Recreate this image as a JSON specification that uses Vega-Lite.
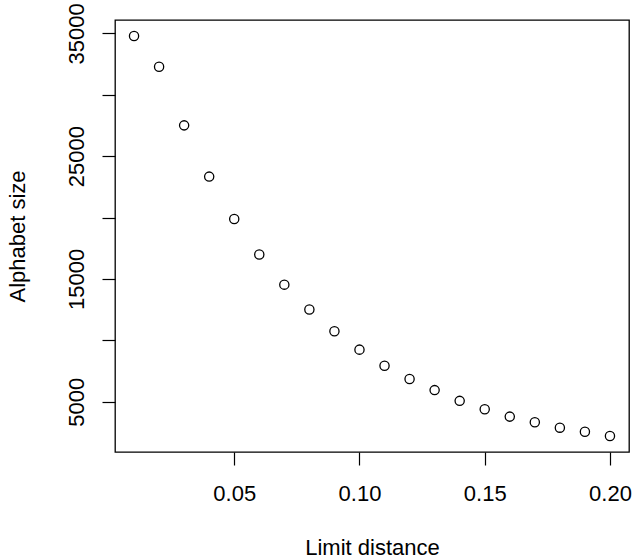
{
  "$schema": "https://vega.github.io/schema/vega-lite/v6.json",
  "width": 514,
  "height": 432,
  "autosize": {"type": "none"},
  "padding": {"left": 115, "top": 20, "right": 4, "bottom": 107},
  "background": "white",
  "config": {
    "view": {"stroke": "black", "strokeWidth": 1.3, "fill": "white"},
    "font": "Liberation Sans",
    "axis": {
      "domain": false,
      "grid": false,
      "ticks": true,
      "tickColor": "black",
      "tickWidth": 1.2,
      "tickSize": 13,
      "labelColor": "black",
      "labelFont": "Liberation Sans",
      "labelFontSize": 22,
      "titleColor": "black",
      "titleFont": "Liberation Sans",
      "titleFontSize": 22,
      "titleFontWeight": "normal",
      "labelFlush": false,
      "labelOverlap": false
    }
  },
  "data": {
    "values": [
      {"d": 0.01, "size": 34779},
      {"d": 0.02, "size": 32277},
      {"d": 0.03, "size": 27502},
      {"d": 0.04, "size": 23331},
      {"d": 0.05, "size": 19873},
      {"d": 0.06, "size": 16986},
      {"d": 0.07, "size": 14533},
      {"d": 0.08, "size": 12513},
      {"d": 0.09, "size": 10739},
      {"d": 0.10, "size": 9242},
      {"d": 0.11, "size": 7934},
      {"d": 0.12, "size": 6846},
      {"d": 0.13, "size": 5947},
      {"d": 0.14, "size": 5072},
      {"d": 0.15, "size": 4393},
      {"d": 0.16, "size": 3788},
      {"d": 0.17, "size": 3331},
      {"d": 0.18, "size": 2889},
      {"d": 0.19, "size": 2562},
      {"d": 0.20, "size": 2210}
    ]
  },
  "mark": {"type": "point", "shape": "circle", "filled": false, "stroke": "black", "strokeWidth": 1.3, "size": 85, "opacity": 1},
  "encoding": {
    "x": {
      "field": "d",
      "type": "quantitative",
      "scale": {"domain": [0.0024, 0.2076], "nice": false, "zero": false},
      "axis": {
        "title": "Limit distance",
        "values": [0.05, 0.10, 0.15, 0.20],
        "format": ".2f",
        "labelPadding": 18,
        "titlePadding": 33
      }
    },
    "y": {
      "field": "size",
      "type": "quantitative",
      "scale": {"domain": [907, 36082], "nice": false, "zero": false},
      "axis": {
        "title": "Alphabet size",
        "values": [5000, 10000, 15000, 20000, 25000, 30000, 35000],
        "labelExpr": "datum.value % 10000 == 5000 ? format(datum.value, 'd') : ''",
        "labelAngle": -90,
        "labelAlign": "center",
        "labelBaseline": "alphabetic",
        "labelPadding": 19,
        "titlePadding": 36
      }
    }
  }
}
